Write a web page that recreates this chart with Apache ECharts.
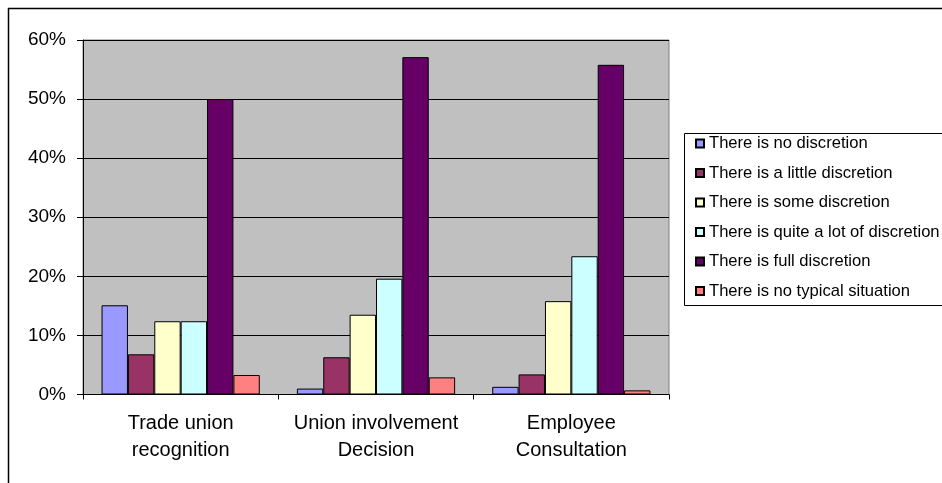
<!DOCTYPE html>
<html>
<head>
<meta charset="utf-8">
<script src="https://cdn.jsdelivr.net/npm/echarts@6/dist/echarts.min.js"></script>
<style>
html,body{margin:0;padding:0;background:#fff;}
#chart{width:942px;height:483px;}
</style>
</head>
<body>
<div id="chart"></div>
<script>
const categories = ['Trade union\nrecognition', 'Union involvement\nDecision', 'Employee\nConsultation'];
const seriesNames = [
  'There is no discretion',
  'There is a little discretion',
  'There is some discretion',
  'There is quite a lot of discretion',
  'There is full discretion',
  'There is no typical situation'
];
const noDiscretion = [15.1, 1.0, 1.3];
const littleDiscretion = [6.8, 6.3, 3.4];
const someDiscretion = [12.4, 13.5, 15.8];
const quiteALotDiscretion = [12.4, 19.6, 23.4];
const fullDiscretion = [50.0, 57.1, 55.8];
const noTypicalSituation = [3.3, 2.9, 0.7];
const yTicks = [0, 10, 20, 30, 40, 50, 60];

const seriesValues = [noDiscretion, littleDiscretion, someDiscretion, quiteALotDiscretion, fullDiscretion, noTypicalSituation];
const colors = ['#9999FF', '#993366', '#FFFFCC', '#CCFFFF', '#660066', '#FF8080'];
const FONT = '"Liberation Sans", Arial, sans-serif';

const chart = echarts.init(document.getElementById('chart'), null, {renderer: 'canvas'});
chart.setOption({
  animation: false,
  backgroundColor: '#ffffff',
  textStyle: {fontFamily: FONT},
  grid: {
    left: 83, right: 273, top: 40, bottom: 88.5,
    show: true, backgroundColor: '#C0C0C0', borderColor: '#808080', borderWidth: 1
  },
  legend: {
    orient: 'vertical',
    left: 690, top: 130,
    itemWidth: 8, itemHeight: 8, itemGap: 12.5,
    selectedMode: false,
    icon: 'rect',
    textStyle: {fontFamily: FONT, fontSize: 16.6, color: '#000', lineHeight: 17},
    data: seriesNames
  },
  xAxis: {
    type: 'category',
    data: categories,
    axisLine: {lineStyle: {color: '#000', width: 1}},
    axisTick: {show: true, length: 5, lineStyle: {color: '#000'}},
    axisLabel: {interval: 0, fontFamily: FONT, fontSize: 20, color: '#000', lineHeight: 27, margin: 15}
  },
  yAxis: {
    type: 'value',
    min: yTicks[0], max: yTicks[yTicks.length - 1], interval: 10,
    axisLine: {show: true, lineStyle: {color: '#000', width: 1}},
    axisTick: {show: true, length: 6, lineStyle: {color: '#000'}},
    axisLabel: {fontFamily: FONT, fontSize: 19, color: '#000', margin: 17, formatter: '{value}%'},
    splitLine: {show: true, lineStyle: {color: '#000', width: 1}}
  },
  series: seriesNames.map((name, i) => ({
    name: name,
    type: 'bar',
    data: seriesValues[i],
    barGap: '0%',
    barCategoryGap: '19%',
    itemStyle: {color: colors[i], borderColor: '#000', borderWidth: 1}
  })),
  graphic: [
    {type: 'line', shape: {x1: 8.5, y1: 8, x2: 8.5, y2: 483}, style: {stroke: '#000', lineWidth: 1.5}},
    {type: 'line', shape: {x1: 8, y1: 8.5, x2: 942, y2: 8.5}, style: {stroke: '#000', lineWidth: 1.5}},
    {type: 'rect', shape: {x: 684.5, y: 133.5, width: 300, height: 172}, style: {fill: null, stroke: '#000', lineWidth: 1}}
  ]
});
</script>
</body>
</html>
